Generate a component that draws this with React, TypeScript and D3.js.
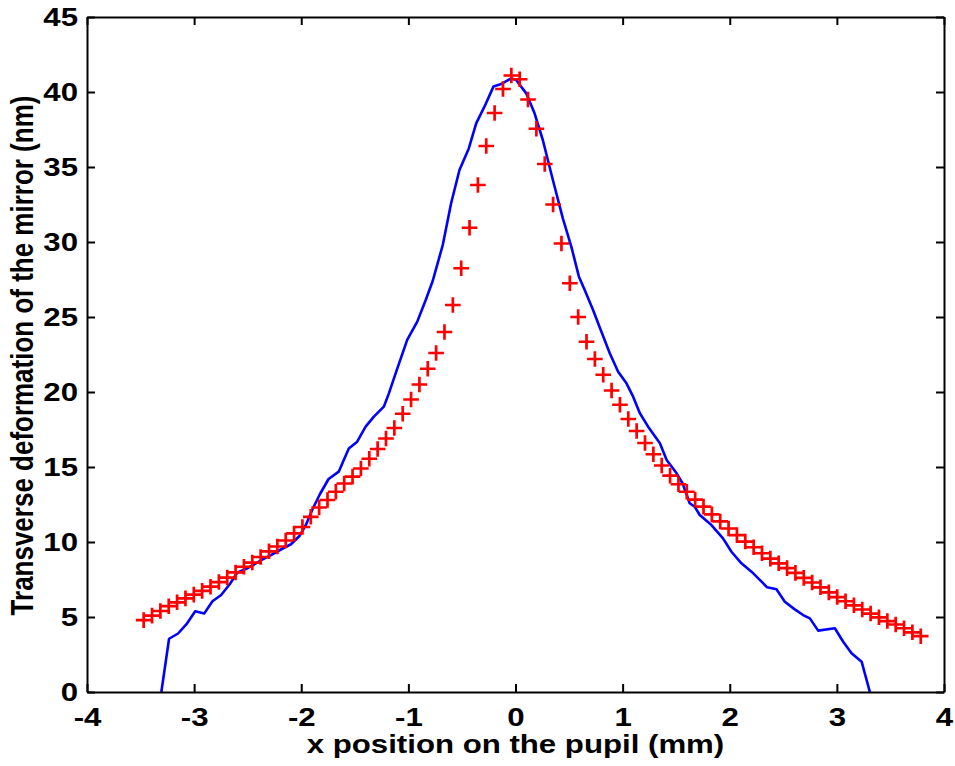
import React, { useEffect, useRef } from 'react';
import * as d3 from 'd3';

// ---- data (mm, nm) ----
const redX = [
  -3.471, -3.393, -3.315, -3.237, -3.159, -3.081, -3.003, -2.925, -2.847, -2.769,
  -2.691, -2.613, -2.535, -2.457, -2.379, -2.301, -2.223, -2.145, -2.067, -1.989,
  -1.911, -1.833, -1.755, -1.677, -1.599, -1.521, -1.443, -1.365, -1.287, -1.209,
  -1.131, -1.053, -0.975, -0.897, -0.819, -0.741, -0.663, -0.585, -0.507, -0.429,
  -0.351, -0.273, -0.195, -0.117, -0.039,
  0.039, 0.117, 0.195, 0.273, 0.351, 0.429, 0.507, 0.585, 0.663, 0.741,
  0.819, 0.897, 0.975, 1.053, 1.131, 1.209, 1.287, 1.365, 1.443, 1.521,
  1.599, 1.677, 1.755, 1.833, 1.911, 1.989, 2.067, 2.145, 2.223, 2.301,
  2.379, 2.457, 2.535, 2.613, 2.691, 2.769, 2.847, 2.925, 3.003, 3.081,
  3.159, 3.237, 3.315, 3.393, 3.471, 3.549, 3.627, 3.705, 3.783,
];
const redY = [
  4.79, 5.09, 5.40, 5.72, 5.98, 6.24, 6.49, 6.74, 7.02, 7.33,
  7.63, 7.97, 8.35, 8.63, 9.00, 9.38, 9.70, 10.10, 10.57, 11.00,
  11.68, 12.30, 12.80, 13.35, 13.90, 14.36, 14.90, 15.55, 16.20, 16.90,
  17.60, 18.55, 19.50, 20.50, 21.55, 22.60, 24.00, 25.80, 28.25, 30.95,
  33.80, 36.40, 38.60, 40.20, 41.10,
  40.85, 39.50, 37.55, 35.20, 32.50, 29.90, 27.25, 25.00, 23.35, 22.20,
  21.15, 20.10, 19.15, 18.20, 17.40, 16.60, 15.85, 15.10, 14.42, 13.85,
  13.35, 12.83, 12.36, 11.84, 11.37, 10.90, 10.46, 10.03, 9.65, 9.25,
  8.89, 8.58, 8.26, 7.94, 7.61, 7.30, 6.98, 6.64, 6.33, 6.05,
  5.78, 5.50, 5.23, 4.98, 4.73, 4.50, 4.25, 3.98, 3.72,
];

const blueX = [
  -3.306, -3.234, -3.150, -3.065, -2.990, -2.905, -2.829, -2.748, -2.668, -2.598,
  -2.518, -2.440, -2.361, -2.283, -2.190, -2.096, -2.019, -1.956, -1.894, -1.825,
  -1.745, -1.650, -1.603, -1.556, -1.478, -1.399, -1.322, -1.229, -1.182, -1.119,
  -1.011, -0.917, -0.838, -0.773, -0.679, -0.601, -0.523, -0.436, -0.367, -0.290,
  -0.206, -0.134, -0.040, 0.006, 0.100, 0.178, 0.255, 0.349, 0.442, 0.521,
  0.592, 0.646, 0.724, 0.802, 0.880, 0.958, 1.036, 1.098, 1.161, 1.238,
  1.348, 1.411, 1.504, 1.560, 1.626, 1.673, 1.720, 1.829, 1.937, 2.016,
  2.109, 2.203, 2.280, 2.349, 2.436, 2.514, 2.607, 2.685, 2.748, 2.825,
  2.981, 3.059, 3.137, 3.231, 3.308,
];
const blueY = [
  0, 3.55, 3.90, 4.58, 5.38, 5.24, 6.05, 6.47, 7.18, 7.95,
  8.20, 8.50, 8.84, 9.13, 9.50, 9.85, 10.38, 11.15, 12.20, 13.20,
  14.20, 14.69, 15.47, 16.24, 16.69, 17.69, 18.36, 19.02, 19.91, 21.24,
  23.47, 24.69, 26.13, 27.40, 29.80, 32.58, 34.80, 36.24, 37.91, 39.02,
  40.36, 40.53, 40.91, 40.80, 39.91, 38.58, 36.80, 34.13, 31.58, 29.69,
  27.69, 26.80, 25.47, 24.02, 22.58, 21.35, 20.58, 19.69, 18.58, 17.69,
  16.58, 15.47, 14.58, 13.90, 12.58, 12.35, 11.80, 11.13, 10.24, 9.35,
  8.58, 8.02, 7.47, 6.98, 6.85, 6.02, 5.51, 5.13, 4.91, 4.09,
  4.25, 3.35, 2.58, 2.02, 0,
];

const xTicks = [-4, -3, -2, -1, 0, 1, 2, 3, 4];
const yTicks = [0, 5, 10, 15, 20, 25, 30, 35, 40, 45];
const xLabel = 'x position on the pupil (mm)';
const yLabel = 'Transverse deformation of the mirror (nm)';

const W = 955;
const H = 766;
const FONT = '"Liberation Sans", Arial, Helvetica, sans-serif';
const FS = 26;      // font size (vertical)
const SX = 1.2;     // horizontal stretch of the glyphs

export default function App() {
  const ref = useRef<SVGSVGElement>(null);

  useEffect(() => {
    document.body.style.margin = '0';
    const svg = d3.select(ref.current);
    svg.selectAll('*').remove();

    const left = 87, right = 944, top = 17, bottom = 692;
    const x = d3.scaleLinear().domain([-4, 4]).range([left, right]);
    const y = d3.scaleLinear().domain([0, 45]).range([bottom, top]);

    svg.append('rect').attr('width', W).attr('height', H).attr('fill', '#fff');

    const clipId = 'plotclip';
    svg.append('clipPath').attr('id', clipId)
      .append('rect').attr('x', left).attr('y', top)
      .attr('width', right - left).attr('height', bottom - top);

    const plot = svg.append('g').attr('clip-path', `url(#${clipId})`);

    const line = d3.line<number>()
      .x((_, i) => x(blueX[i]))
      .y((d) => y(d));
    plot.append('path')
      .datum(blueY)
      .attr('d', line)
      .attr('fill', 'none')
      .attr('stroke', '#0000ff')
      .attr('stroke-width', 2.6)
      .attr('stroke-linejoin', 'round');

    const s = 7.8;
    plot.selectAll('path.plus')
      .data(redY)
      .enter()
      .append('path')
      .attr('class', 'plus')
      .attr('d', `M${-s},0H${s}M0,${-s}V${s}`)
      .attr('transform', (d, i) => `translate(${x(redX[i])},${y(d)})`)
      .attr('stroke', '#ff0000')
      .attr('stroke-width', 2.7)
      .attr('fill', 'none');

    const styleAxis = (g: any, labels: boolean) => {
      g.select('.domain').attr('stroke', '#000').attr('stroke-width', 2);
      g.selectAll('.tick line').attr('stroke', '#000').attr('stroke-width', 2);
      g.selectAll('.tick text')
        .attr('fill', '#000')
        .style('font-family', FONT)
        .style('font-weight', 'bold')
        .style('font-size', `${FS}px`);
      if (!labels) g.selectAll('.tick text').remove();
    };

    const fmt = (d: any) => String(d);

    const gx = svg.append('g').attr('transform', `translate(0,${bottom})`)
      .call(d3.axisBottom(x).tickValues(xTicks).tickFormat(fmt).tickSizeInner(-8).tickSizeOuter(0).tickPadding(16));
    styleAxis(gx, true);
    gx.selectAll('.tick text').attr('transform', `scale(${SX},1)`);

    const gxt = svg.append('g').attr('transform', `translate(0,${top})`)
      .call(d3.axisTop(x).tickValues(xTicks).tickSizeInner(-8).tickSizeOuter(0));
    styleAxis(gxt, false);

    const padY = 9;
    const gy = svg.append('g').attr('transform', `translate(${left},0)`)
      .call(d3.axisLeft(y).tickValues(yTicks).tickFormat(fmt).tickSizeInner(-8).tickSizeOuter(0).tickPadding(padY));
    styleAxis(gy, true);
    gy.selectAll('.tick text')
      .attr('x', -padY / SX)
      .attr('transform', `scale(${SX},1)`);

    const gyr = svg.append('g').attr('transform', `translate(${right},0)`)
      .call(d3.axisRight(y).tickValues(yTicks).tickSizeInner(-8).tickSizeOuter(0));
    styleAxis(gyr, false);

    svg.append('text')
      .attr('transform', `translate(${(left + right) / 2},753) scale(${SX},1)`)
      .attr('text-anchor', 'middle')
      .style('font-family', FONT)
      .style('font-weight', 'bold')
      .style('font-size', `${FS}px`)
      .text(xLabel);

    svg.append('text')
      .attr('transform', `translate(33,${(top + bottom) / 2 + 1}) rotate(-90) scale(1,${SX})`)
      .attr('text-anchor', 'middle')
      .style('font-family', FONT)
      .style('font-weight', 'bold')
      .style('font-size', `${FS}px`)
      .text(yLabel);
  }, []);

  return (
    <svg
      ref={ref}
      width={W}
      height={H}
      style={{ display: 'block', position: 'absolute', left: 0, top: 0 }}
    />
  );
}
